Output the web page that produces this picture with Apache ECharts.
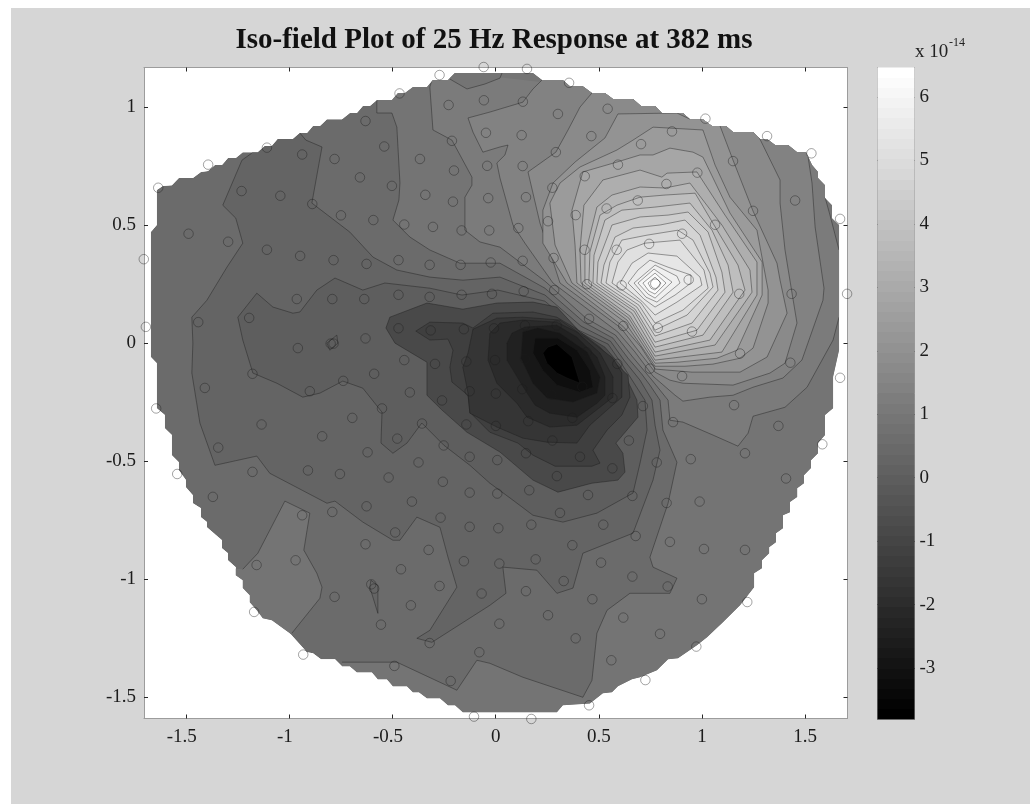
<!DOCTYPE html>
<html><head><meta charset="utf-8">
<style>html,body{margin:0;padding:0;background:#fff;width:1030px;height:804px;overflow:hidden}
#bg{position:absolute;left:11px;top:8px;right:0;bottom:0;background:#d6d6d6}
#c{position:absolute;left:0;top:0;width:1030px;height:804px}</style>
<script src="https://cdn.jsdelivr.net/npm/echarts@6/dist/echarts.min.js"></script>
</head><body><div id="bg"></div><div id="c"></div>
<script>
const titleText='Iso-field Plot of 25 Hz Response at 382 ms';
const xTicks=[-1.5,-1,-0.5,0,0.5,1,1.5];
const yTicks=[-1.5,-1,-0.5,0,0.5,1];
const barTicks=[-3,-2,-1,0,1,2,3,4,5,6];
const levelValues=[-3.81,-3.25,-2.88,-2.48,-2.08,-1.68,-1.27,-.87,-.02,.22,.5,.86,1.14,1.43,1.75,2.11,2.43,2.88,3.2,3.52,3.84,4.16,4.45,4.73,4.97,5.21,5.45,5.65,5.86,6.06,6.26,6.42];
const sensors=[[-1.636,.659],[-1.394,.757],[-1.109,.829],[-.938,.8],[-.781,.781],[-.631,.942],[-.54,.834],[-.466,1.059],[-.367,.781],[-.272,1.137],[-.228,1.01],[-.057,1.03],[-.058,1.171],[-.212,.858],[-.047,.892],[-.041,.752],[-.202,.732],[-.658,.703],[-.503,.667],[-1.232,.645],[-1.044,.625],[-.889,.59],[-.341,.629],[-.207,.6],[-.036,.615],[-.75,.542],[-.593,.522],[-.443,.503],[-.304,.493],[-.165,.478],[-.031,.478],[-1.489,.464],[-1.297,.43],[-1.109,.396],[-.948,.37],[-.786,.352],[-.626,.336],[-.471,.352],[-.32,.332],[-.17,.332],[-.024,.342],[-1.706,.356],[-.964,.187],[-.792,.187],[-.637,.187],[-.471,.205],[-.32,.196],[-.165,.205],[-.018,.209],[-1.442,.089],[-1.195,.107],[-1.696,.069],[-.471,.063],[-.315,.054],[-.154,.059],[-.008,.063],[-.631,.02],[-.959,-.021],[-.8,-.002],[-.786,-.002],
[-.443,-.072],[-.294,-.088],[-.142,-.078],[-.003,-.072],[-1.179,-.13],[-.589,-.13],[-.739,-.16],[-1.41,-.19],[-.901,-.204],[-.416,-.209],[-.126,-.204],[.001,-.214],[-.26,-.243],[-1.646,-.277],[-.551,-.277],[-.695,-.317],[-.357,-.341],[-.142,-.345],[.001,-.351],[-1.135,-.345],[-.841,-.395],[-.477,-.405],[-1.345,-.443],[-.621,-.463],[-.252,-.434],[-.126,-.482],[.008,-.496],[-.374,-.506],[-.91,-.54],[-1.179,-.546],[-1.544,-.555],[-.755,-.555],[-.519,-.57],[-.256,-.588],[-.126,-.634],[.008,-.638],[-1.371,-.652],[-.626,-.692],[-.406,-.672],[-.938,-.73],[-.792,-.716],[-.267,-.74],[-.126,-.779],[.013,-.785],[-.487,-.803],[-.631,-.853],[-.325,-.877],[-.154,-.925],[.018,-.935],[-.97,-.921],[-1.159,-.941],[-.459,-.959],[-.272,-1.03],[-.603,-1.023],[-.589,-1.041],[-.068,-1.062],[-.781,-1.076],[-.411,-1.112],[-1.171,-1.14],[.018,-1.19],[-.556,-1.194],[-.32,-1.272],[-.079,-1.311],[-.933,-1.321],[-.491,-1.369],[-.218,-1.433],[-.105,-1.584],
[.142,-.067],[.441,-.038],[.59,-.088],[.748,-.108],[.904,-.14],[1.185,-.044],[1.429,-.083],[1.67,-.147],[.129,-.195],[.27,-.219],[.42,-.185],[.566,-.233],[.714,-.267],[1.156,-.263],[.158,-.331],[.372,-.317],[.86,-.335],[1.371,-.351],[.275,-.413],[.646,-.413],[1.584,-.429],[.147,-.467],[.409,-.482],[1.209,-.467],[.946,-.492],[.781,-.506],[.566,-.531],[.297,-.564],[1.408,-.574],[.163,-.624],[.448,-.644],[.663,-.648],[.829,-.678],[.989,-.672],[.312,-.72],[.173,-.77],[.522,-.77],[.679,-.818],[.845,-.843],[1.01,-.873],[1.209,-.877],[.372,-.857],[.194,-.917],[.511,-.931],[.663,-.99],[.33,-1.009],[.834,-1.032],[.147,-1.052],[.469,-1.086],[1,-1.086],[1.22,-1.098],[.254,-1.154],[.619,-1.164],[.797,-1.233],[.388,-1.252],[.973,-1.287],[.561,-1.345],[.726,-1.429],[.453,-1.536],[.173,-1.594],
[.152,1.163],[.356,1.104],[.132,1.024],[.302,.972],[.543,.994],[.126,.882],[.464,.878],[1.017,.952],[.855,.898],[1.316,.878],[1.531,.805],[.705,.844],[.292,.81],[1.151,.772],[.131,.751],[.593,.757],[.432,.708],[.978,.723],[.275,.659],[.828,.675],[.147,.619],[.689,.605],[1.452,.605],[.538,.571],[1.248,.561],[.388,.543],[1.67,.527],[.254,.517],[.11,.488],[1.064,.502],[.904,.464],[.744,.421],[.587,.396],[.431,.396],[.131,.349],[.281,.361],[.936,.269],[.774,.252],[.611,.245],[.443,.25],[1.181,.209],[1.435,.209],[1.704,.209],[.284,.225],[.136,.22],[.453,.103],[.619,.073],[.786,.065],[.952,.049],[.142,.075],[.296,.075]];
const hull=[[-1.672,.013],[-1.672,.471],[-1.643,.501],[-1.643,.649],[-1.614,.666],[-1.57,.67],[-1.536,.7],[-1.468,.7],[-1.429,.726],[-1.395,.73],[-1.361,.755],[-1.327,.755],[-1.298,.785],[-1.26,.785],[-1.226,.81],[-1.153,.81],[-1.119,.836],[-1.085,.836],[-1.056,.866],[-.983,.866],[-.949,.891],[-.915,.891],[-.886,.921],[-.852,.921],[-.818,.95],[-.745,.95],[-.707,.976],[-.673,.976],[-.644,1.006],[-.61,1.006],[-.576,1.031],[-.503,1.031],[-.474,1.061],[-.44,1.061],[-.401,1.086],[-.333,1.086],[-.304,1.116],[-.231,1.116],[-.197,1.146],[.181,1.146],[.225,1.116],[.326,1.116],[.36,1.09],[.423,1.09],[.467,1.061],[.53,1.061],[.569,1.035],[.666,1.035],[.705,1.006],[.773,1.006],[.806,.976],[.908,.976],[.942,.95],[1.005,.95],[1.049,.921],[1.117,.921],[1.151,.895],[1.248,.895],[1.282,.866],[1.316,.866],[1.355,.84],[1.418,.84],[1.462,.81],[1.505,.81],[1.534,.755],[1.563,.726],[1.563,.7],[1.597,.67],[1.597,.615],[1.631,.585],[1.631,.53],[1.665,.501],[1.665,-.03],[1.636,-.144],[1.636,-.276],[1.597,-.305],[1.597,-.39],[1.563,-.424],[1.563,-.467],[1.529,-.497],[1.529,-.53],[1.495,-.56],[1.495,-.594],[1.462,-.615],[1.462,-.653],[1.427,-.674],[1.427,-.717],[1.393,-.73],[1.393,-.785],[1.359,-.806],[1.359,-.844],[1.326,-.866],[1.326,-.891],[1.291,-.921],[1.291,-.955],[1.253,-.976],[1.253,-1.035],[1.185,-1.112],[1.102,-1.184],[1.025,-1.247],[.976,-1.281],[.884,-1.336],[.836,-1.341],[.782,-1.387],[.7,-1.417],[.661,-1.426],[.593,-1.455],[.564,-1.481],[.52,-1.485],[.457,-1.528],[.326,-1.536],[.297,-1.566],[-.159,-1.566],[-.197,-1.536],[-.231,-1.536],[-.27,-1.506],[-.333,-1.506],[-.372,-1.481],[-.401,-1.481],[-.43,-1.455],[-.498,-1.455],[-.527,-1.426],[-.571,-1.426],[-.6,-1.396],[-.673,-1.396],[-.707,-1.37],[-.745,-1.37],[-.779,-1.341],[-.847,-1.341],[-.886,-1.315],[-.915,-1.311],[-.998,-1.23],[-1.085,-1.175],[-1.129,-1.167],[-1.158,-1.133],[-1.192,-1.099],[-1.192,-1.069],[-1.226,-1.039],[-1.226,-1.006],[-1.26,-.984],[-1.26,-.95],[-1.298,-.921],[-1.298,-.891],[-1.327,-.87],[-1.327,-.836],[-1.4,-.781],[-1.4,-.759],[-1.429,-.738],[-1.429,-.7],[-1.468,-.679],[-1.468,-.645],[-1.502,-.611],[-1.502,-.581],[-1.536,-.539],[-1.536,-.505],[-1.57,-.475],[-1.57,-.39],[-1.604,-.361],[-1.604,-.305],[-1.643,-.276],[-1.643,-.085],[-1.672,-.059]];
const L0=[[.229,-.042],[.253,-.017],[.297,-.004],[.37,-.059],[.409,-.17],[.346,-.148],[.297,-.127],[.249,-.085]];
const L1=[[.191,.021],[.181,-.042],[.229,-.115],[.297,-.178],[.409,-.208],[.472,-.187],[.457,-.115],[.394,-.03],[.302,.021]];
const L2=[[.132,.047],[.123,-.064],[.181,-.17],[.249,-.233],[.375,-.25],[.491,-.212],[.506,-.144],[.443,-.038],[.312,.042],[.205,.064]];
const L3=[[.055,0],[.055,-.072],[.128,-.178],[.191,-.263],[.263,-.297],[.394,-.314],[.491,-.255],[.53,-.221],[.53,-.144],[.491,-.059],[.394,.025],[.297,.076],[.142,.068],[.079,.042]];
const L4=[[-.028,.042],[-.037,-.072],[.006,-.17],[.103,-.255],[.152,-.314],[.263,-.356],[.394,-.348],[.506,-.272],[.569,-.229],[.569,-.144],[.506,-.042],[.394,.047],[.297,.089],[.132,.098],[.021,.085]];
const L5=[[-.11,.059],[-.134,-.042],[-.159,-.102],[-.134,-.212],[-.125,-.297],[.006,-.356],[.132,-.403],[.249,-.42],[.394,-.424],[.457,-.348],[.54,-.284],[.612,-.229],[.612,-.127],[.569,-.064],[.443,.021],[.312,.098],[.132,.11],[.006,.106]];
const L6=[[-.387,.051],[-.319,.089],[-.159,.085],[-.11,.064],[-.013,.127],[.181,.132],[.297,.11],[.385,.064],[.506,-.017],[.564,-.072],[.642,-.136],[.651,-.229],[.612,-.305],[.54,-.369],[.472,-.454],[.506,-.509],[.467,-.522],[.288,-.522],[.181,-.475],[.108,-.424],[-.028,-.378],[-.125,-.293],[-.134,-.221],[-.212,-.165],[-.222,-.102],[-.207,-.03],[-.231,.017],[-.319,.013]];
const L7=[[-.532,.064],[-.513,.11],[-.333,.17],[-.159,.144],[.006,.17],[.181,.174],[.297,.153],[.409,.047],[.53,-.017],[.603,-.093],[.685,-.242],[.69,-.314],[.583,-.424],[.617,-.467],[.627,-.547],[.593,-.581],[.467,-.594],[.302,-.632],[.181,-.581],[.021,-.462],[-.139,-.378],[-.26,-.284],[-.333,-.221],[-.333,-.081],[-.488,0]];
const L8=[[-1.226,.013],[-1.25,.11],[-1.158,.212],[-1.08,.153],[-.983,.127],[-.949,.132],[-.867,.225],[-.779,.276],[-.644,.225],[-.537,.255],[-.319,.233],[-.163,.204],[.011,.225],[.239,.178],[.402,.055],[.545,-.004],[.612,-.089],[.724,-.242],[.734,-.369],[.7,-.509],[.666,-.636],[.491,-.721],[.326,-.759],[.181,-.73],[.084,-.666],[-.028,-.594],[-.125,-.518],[-.251,-.433],[-.358,-.339],[-.43,-.424],[-.498,-.467],[-.556,-.424],[-.551,-.293],[-.644,-.191],[-.741,-.161],[-.852,-.212],[-.935,-.229],[-1.061,-.17],[-1.177,-.127]];
const L9=[[-.949,.891],[-.92,.861],[-.842,.832],[-.891,.594],[-.707,.471],[-.595,.365],[-.479,.31],[-.319,.28],[-.159,.267],[.021,.28],[.239,.204],[.414,.072],[.557,.008],[.622,-.072],[.7,-.157],[.758,-.242],[.773,-.348],[.797,-.454],[.782,-.509],[.763,-.581],[.666,-.806],[.423,-.891],[.375,-1.039],[.297,-1.061],[.2,-.963],[.035,-.95],[.05,-1.061],[-.028,-1.112],[-.309,-1.269],[-.382,-1.252],[-.319,-1.218],[-.188,-1.035],[-.231,-.908],[-.27,-.781],[-.382,-.738],[-.464,-.836],[-.498,-.836],[-.644,-.759],[-.779,-.67],[-.818,-.679],[-1.095,-.552],[-1.158,-.479],[-1.361,-.518],[-1.434,-.339],[-1.473,-.127],[-1.468,0],[-1.473,.11],[-1.4,.182],[-1.303,.322],[-1.226,.424],[-1.26,.53],[-1.323,.585],[-1.23,.776],[-1.182,.806]];
const L9gap=[[-1.12,.93],[-.98,.97]];
const L10=[[-.576,1.031],[-.576,.976],[-.503,.976],[-.479,.916],[-.464,.679],[-.469,.607],[-.498,.522],[-.416,.45],[-.319,.395],[-.173,.339],[-.028,.339],[.021,.339],[.239,.233],[.428,.089],[.569,.021],[.642,-.064],[.709,-.132],[.748,-.178],[.797,-.242],[.811,-.369],[.879,-.505],[.836,-.679],[.748,-.908],[.763,-.95],[.879,-.997],[.845,-1.061],[.651,-1.061],[.54,-1.133],[.491,-1.23],[.467,-1.43],[.423,-1.502],[.132,-1.417],[-.028,-1.358],[-.091,-1.345],[-.188,-1.472],[-.479,-1.353],[-.745,-1.353]];
const L10gap=[[-.745,-1.58],[1,-1.58],[1.7,-1.5],[1.7,1.16],[-.576,1.16]];
const L11a=[[-.309,1.116],[-.319,1.086],[-.304,.904],[-.212,.861],[-.115,.704],[-.115,.67],[-.149,.619],[-.149,.479],[-.076,.429],[.021,.407],[.239,.263],[.438,.106],[.581,.034],[.661,-.055],[.758,-.157],[.836,-.242],[.845,-.327],[.908,-.335],[1.054,-.39],[1.175,-.437],[1.224,-.382],[1.248,-.31],[1.403,-.272],[1.51,-.187],[1.636,.013],[1.665,.11]];
const L11gapA=[[1.72,.11],[1.72,.39]];
const L11b=[[1.665,.395],[1.621,.543],[1.597,.619]];
const L11gapB=[[1.65,.75],[1.3,1],[-.309,1.16]];
const topPatch=[[-.222,1.12],[-.139,1.078],[-.052,1.099],[.021,1.124],[.031,1.146]];
const topPatchGap=[[.03,1.16],[-.222,1.16]];
const islandSW=[[-1.226,-.959],[-1.153,-.891],[-1.022,-.67],[-.901,-.721],[-.93,-.878],[-.867,-.976],[-.842,-1.035],[-.852,-1.082],[-.988,-1.23]];
const islandGap=[[-1.1,-1.3],[-1.35,-.95]];
const L12=[[.225,1.116],[.181,1.078],[.132,1.022],[-.028,.98],[-.134,.955],[-.11,.895],[-.062,.81],[.021,.832],[.06,.84],[.045,.798],[.006,.764],[.021,.7],[.06,.577],[.084,.501],[.142,.424],[.278,.255],[.593,.047],[.676,-.038],[.763,-.14],[.87,-.221],[.908,-.246],[1.039,-.229],[1.151,-.221],[1.248,-.187],[1.393,-.148],[1.485,-.072],[1.587,.182],[1.592,.233],[1.549,.492],[1.534,.679],[1.515,.789]];
const L12gap=[[1.5,1],[.3,1.2]];
const L13=[[.467,1.061],[.409,1.001],[.351,.904],[.292,.81],[.157,.726],[.181,.636],[.215,.509],[.273,.361],[.312,.255],[.608,.064],[.69,-.03],[.773,-.123],[.845,-.157],[.908,-.17],[1.151,-.178],[1.33,-.127],[1.403,-.085],[1.461,.085],[1.437,.212],[1.403,.395],[1.379,.594],[1.379,.692],[1.267,.891]];
const L13gap=[[1.2,1],[.5,1.15]];
const L14=[[.942,.95],[.879,.976],[.593,.972],[.53,.87],[.385,.768],[.278,.679],[.229,.564],[.229,.424],[.346,.255],[.617,.072],[.705,-.017],[.773,-.11],[.952,-.123],[1.185,-.123],[1.316,-.059],[1.413,.127],[1.379,.267],[1.364,.339],[1.248,.56],[1.151,.776],[1.088,.921]];
const L14gap=[[1.09,1],[.94,1]];
const L15=[[.763,.916],[1.005,.904],[1.064,.755],[1.136,.619],[1.267,.479],[1.321,.225],[1.321,.17],[1.248,-.021],[1.185,-.064],[1.054,-.089],[.918,-.098],[.773,-.098],[.627,.089],[.37,.255],[.288,.416],[.263,.594],[.312,.679],[.409,.747],[.588,.819],[.666,.861]];
const L16=[[.385,.416],[.37,.564],[.423,.726],[.588,.768],[.7,.798],[.763,.798],[.845,.827],[.957,.81],[1.005,.789],[1.136,.552],[1.292,.344],[1.292,.204],[1.17,-.03],[1.073,-.064],[.879,-.081],[.773,-.085],[.637,.098],[.394,.255]];
const L17=[[.409,.395],[.428,.585],[.52,.692],[.7,.734],[.806,.704],[.831,.721],[.976,.726],[1.112,.543],[1.267,.344],[1.267,.204],[1.097,-.038],[.773,-.072],[.646,.106],[.414,.255]];
const L18=[[.433,.373],[.491,.577],[.564,.628],[.7,.662],[.821,.658],[.942,.679],[1.097,.501],[1.233,.31],[1.243,.216],[1.064,-.008],[.773,-.055],[.651,.115],[.433,.255]];
const L19=[[.457,.386],[.506,.543],[.588,.585],[.7,.619],[.821,.628],[.967,.636],[1.088,.458],[1.175,.331],[1.209,.225],[1.039,.013],[.773,-.038],[.661,.127],[.452,.255]];
const L20=[[.477,.373],[.53,.522],[.612,.564],[.773,.577],[.942,.594],[1.049,.479],[1.127,.331],[1.151,.216],[1.005,.034],[.773,-.017],[.671,.136],[.472,.255]];
const L21=[[.496,.344],[.564,.501],[.7,.535],[.836,.543],[.933,.556],[1.03,.471],[1.097,.301],[1.112,.216],[.976,.055],[.773,.004],[.676,.144],[.491,.255]];
const L22=[[.525,.331],[.579,.45],[.666,.488],[.797,.501],[.918,.522],[.991,.458],[1.068,.28],[1.078,.225],[.952,.085],[.773,.03],[.685,.153],[.511,.255]];
const L23=[[.554,.344],[.612,.437],[.734,.458],[.884,.479],[.957,.437],[1.039,.297],[1.054,.238],[.928,.119],[.773,.055],[.695,.161],[.535,.255]];
const L24=[[.593,.344],[.637,.395],[.724,.424],[.894,.437],[1.01,.31],[1.03,.233],[.908,.14],[.773,.085],[.705,.17],[.564,.255]];
const L25=[[.661,.339],[.739,.382],[.879,.369],[.991,.28],[1,.246],[.879,.174],[.773,.119],[.709,.178],[.603,.255]];
const L26=[[.69,.31],[.748,.352],[.836,.322],[.947,.289],[.947,.255],[.87,.204],[.773,.153],[.719,.187],[.642,.255]];
const L27=[[.773,.331],[.879,.284],[.894,.255],[.782,.174],[.729,.195],[.671,.255]];
const L28=[[.768,.314],[.855,.259],[.773,.191],[.739,.208],[.69,.255]];
const L29=[[.773,.297],[.826,.255],[.773,.208],[.743,.221],[.714,.255]];
const L30=[[.773,.28],[.802,.255],[.773,.225],[.753,.233],[.739,.255]];
const dotFleck=[[-.818,0],[-.77,.034],[-.765,0],[-.804,-.03]];
const streak=[[-.571,-1.146],[-.571,-1.027],[-.605,-1.006],[-.61,-1.035]];

const contourTable=[
 {k:10,lines:[hull],plain:true},
 {k:11,lines:[L10],gaps:[L10gap]},{k:11,lines:[islandSW],gaps:[islandGap]},
 {k:12,lines:[L11a,L11b],gaps:[L11gapA,L11gapB]},
 {k:11,lines:[topPatch],gaps:[topPatchGap]},
 {k:13,lines:[L12],gaps:[L12gap]},{k:14,lines:[L13],gaps:[L13gap]},{k:15,lines:[L14],gaps:[L14gap]},
 {k:16,lines:[L15]},{k:17,lines:[L16]},{k:18,lines:[L17]},{k:19,lines:[L18]},{k:20,lines:[L19]},{k:21,lines:[L20]},{k:22,lines:[L21]},{k:23,lines:[L22]},{k:24,lines:[L23]},{k:25,lines:[L24]},{k:26,lines:[L25]},{k:27,lines:[L26]},{k:28,lines:[L27]},{k:29,lines:[L28]},{k:30,lines:[L29]},{k:31,lines:[L30]},
 {k:9,lines:[L9],gaps:[L9gap]},{k:8,lines:[L8]},{k:7,lines:[L7]},{k:6,lines:[L6]},{k:5,lines:[L5]},{k:4,lines:[L4]},{k:3,lines:[L3]},{k:2,lines:[L2]},{k:1,lines:[L1]},{k:0,lines:[L0]},
 {k:8,lines:[dotFleck]},{k:9,lines:[streak]}
];
const vMin=-3.81,vMax=6.46;
const grayOf=v=>{const g=Math.round(255*(v-vMin)/(vMax-vMin));return `rgb(${g},${g},${g})`;};
const FONT='"Liberation Serif"';
const lineCol='rgba(28,28,28,.42)';

function renderContour(params,api){
  const c=contourTable[api.value(0)];
  const px=a=>a.map(p=>api.coord(p));
  const poly=[];
  c.lines.forEach((l,i)=>{poly.push(...l);if(c.gaps&&c.gaps[i])poly.push(...c.gaps[i]);});
  const children=[{type:'polygon',shape:{points:px(poly)},style:{fill:grayOf(levelValues[c.k]),stroke:null}}];
  if(!c.plain)c.lines.forEach(l=>{
    children.push({type:c.gaps?'polyline':'polygon',shape:{points:px(l)},style:{fill:null,stroke:lineCol,lineWidth:1}});
  });
  return {type:'group',children,clipPath:{type:'polygon',shape:{points:px(hull)}}};
}
function renderBar(params,api){
  const a=api.coord([0,api.value(0)]),b=api.coord([1,api.value(1)]);
  const stops=[];
  for(let i=0;i<64;i++){const g=Math.round(255*(63-i)/63),col=`rgb(${g},${g},${g})`;stops.push({offset:i/64,color:col},{offset:(i+1)/64,color:col});}
  return {type:'rect',shape:{x:a[0],y:b[1],width:b[0]-a[0],height:a[1]-b[1]},style:{fill:new echarts.graphic.LinearGradient(0,0,0,1,stops)}};
}
const axLine={show:true,onZero:false,lineStyle:{color:'#9c9c9c',width:1}};
const tick=(vals)=>({show:true,inside:true,length:4,lineStyle:{color:'#262626',width:1},customValues:vals});
const label=(vals,m)=>({show:true,margin:m,fontFamily:FONT,fontSize:19,color:'#1c1c1c',customValues:vals,hideOverlap:false,showMinLabel:true,showMaxLabel:true});
const chart=echarts.init(document.getElementById('c'),null,{renderer:'canvas'});
chart.setOption({
 animation:false,backgroundColor:'transparent',
 title:[
  {text:titleText,left:489,top:21,textAlign:'center',textStyle:{fontFamily:FONT,fontSize:29,fontWeight:'bold',color:'#111'}},
  {text:'x 10',left:910,top:38,textStyle:{fontFamily:FONT,fontSize:19,fontWeight:'normal',color:'#222'}},
  {text:'-14',left:944,top:32,textStyle:{fontFamily:FONT,fontSize:12,fontWeight:'normal',color:'#222'}}
 ],
 grid:[
  {left:144,top:67.5,width:703.5,height:651,show:true,backgroundColor:'#fff',borderWidth:0},
  {left:877.5,top:67.5,width:37,height:652,show:false}
 ],
 xAxis:[
  {gridIndex:0,type:'value',position:'bottom',min:-1.705,max:1.706,axisLine:axLine,axisTick:tick(xTicks),
   axisLabel:Object.assign(label(xTicks,9),{formatter:v=>v<0?`{n|${v}}`:`${v}`,rich:{n:{fontFamily:FONT,fontSize:19,color:'#1c1c1c',padding:[0,9,0,0]}}}),splitLine:{show:false}},
  {gridIndex:0,type:'value',position:'top',min:-1.705,max:1.706,axisLine:axLine,axisTick:tick(xTicks),axisLabel:{show:false},splitLine:{show:false}},
  {gridIndex:1,type:'value',min:0,max:1,show:false}
 ],
 yAxis:[
  {gridIndex:0,type:'value',position:'left',min:-1.592,max:1.169,axisLine:axLine,axisTick:tick(yTicks),axisLabel:label(yTicks,8),splitLine:{show:false}},
  {gridIndex:0,type:'value',position:'right',min:-1.592,max:1.169,axisLine:axLine,axisTick:tick(yTicks),axisLabel:{show:false},splitLine:{show:false}},
  {gridIndex:1,type:'value',position:'right',min:vMin,max:6.465,axisLine:axLine,axisTick:tick(barTicks),axisLabel:label(barTicks,5),splitLine:{show:false}},
  {gridIndex:1,type:'value',position:'left',min:vMin,max:6.465,axisLine:axLine,axisTick:tick(barTicks),axisLabel:{show:false},splitLine:{show:false}}
 ],
 series:[
  {type:'custom',xAxisIndex:0,yAxisIndex:0,renderItem:renderContour,data:contourTable.map((c,i)=>[i]),silent:true,clip:false,z:2},
  {type:'scatter',xAxisIndex:0,yAxisIndex:0,data:sensors,symbol:'circle',symbolSize:9.5,clip:false,silent:true,z:5,itemStyle:{color:'rgba(0,0,0,0)',borderColor:'rgba(28,28,28,.5)',borderWidth:1}},
  {type:'custom',xAxisIndex:2,yAxisIndex:2,renderItem:renderBar,data:[[vMin,6.465]],silent:true,clip:false,z:2}
 ]
});
</script></body></html>
